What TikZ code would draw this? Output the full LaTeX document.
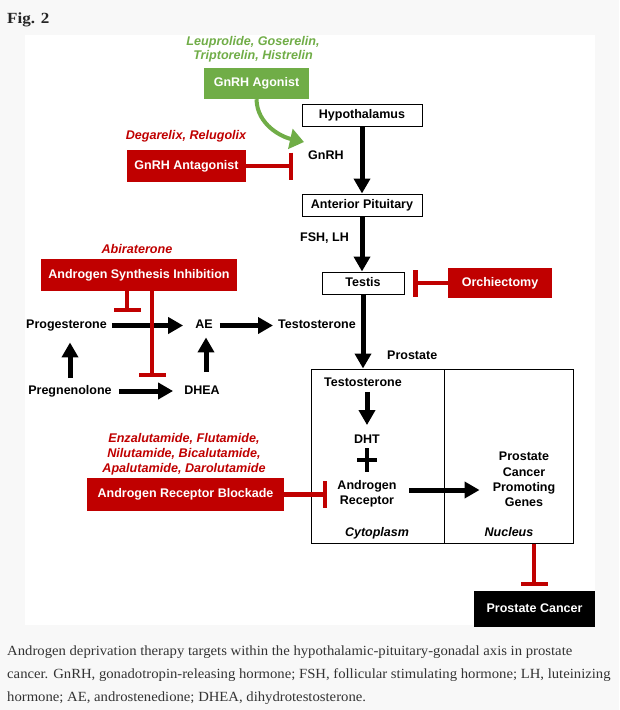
\documentclass[tikz,border=0pt]{standalone}
\usepackage{fontspec}
\setmainfont{Liberation Serif}
\newfontfamily\arial{Liberation Sans}
\newfontfamily\capfont[FakeStretch=1.05]{Liberation Serif}
\newfontfamily\figfont[FakeStretch=1.1]{Liberation Serif}
\usetikzlibrary{arrows.meta}
\definecolor{adtred}{HTML}{C00000}
\definecolor{adtgreen}{HTML}{70AD47}
\definecolor{pagegray}{HTML}{F8F8F8}
\definecolor{captext}{HTML}{333333}
\begin{document}
\begin{tikzpicture}[x=1pt,y=-1pt,
  txt/.style={font=\arial\bfseries\fontsize{12.5}{15}\selectfont, inner sep=0pt, text height=9pt, text depth=2.5pt},
  mtxt/.style={font=\arial\bfseries\fontsize{12.5}{15}\selectfont, inner sep=0pt, align=center},
  itxt/.style={font=\arial\bfseries\itshape\fontsize{12.5}{15}\selectfont, inner sep=0pt, text height=9pt, text depth=2.5pt},
  drug/.style={font=\arial\bfseries\itshape\fontsize{12.6}{14.5}\selectfont, inner sep=0pt, align=center},
  wbox/.style={txt, draw=black, line width=1pt, fill=white},
  rbox/.style={txt, fill=adtred, text=white},
  gbox/.style={txt, fill=adtgreen, text=white},
  kbox/.style={txt, fill=black, text=white},
  region/.style={draw=black, line width=1pt, inner sep=0pt},
  arr/.style={draw=black, line width=5pt, -{Triangle[width=16pt,length=15pt]}},
  inh/.style={draw=adtred, line width=4.5pt, -{Bar[width=27pt]}},
  greenarr/.style={draw=adtgreen, line width=4pt, -{Triangle[width=20pt,length=14pt]}},
  captxt/.style={font=\capfont\fontsize{14}{16}\selectfont, text=captext, inner sep=0pt, anchor=base west}
]
\useasboundingbox (0,0) rectangle (619,710);
\fill[pagegray] (0,0) rectangle (619,710);
\fill[white] (25,35) rectangle (595,625);

% title and caption
\node[anchor=base west, inner sep=0pt, font=\figfont\bfseries\fontsize{15.5}{18}\selectfont, text=black!85] (fig) at (7,23) {Fig. 2};
\node[captxt] (cap1) at (7,655) {Androgen deprivation therapy targets within the hypothalamic-pituitary-gonadal axis in prostate};
\node[captxt] (cap2) at (7,678) {cancer. GnRH, gonadotropin-releasing hormone; FSH, follicular stimulating hormone; LH, luteinizing};
\node[captxt] (cap3) at (7,701) {hormone; AE, androstenedione; DHEA, dihydrotestosterone.};

% prostate regions
\node[region, minimum width=133pt, minimum height=174pt] (cyto) at (377.5,456) {};
\node[region, minimum width=129pt, minimum height=174pt] (nucleus) at (508.5,456) {};

% axis boxes
\node[drug, text=adtgreen] (agdrugs) at (253,49) {Leuprolide, Goserelin,\\Triptorelin, Histrelin};
\node[gbox, minimum width=105pt, minimum height=31pt] (agonist) at (256.5,83.5) {GnRH Agonist};
\node[wbox, minimum width=120pt, minimum height=22pt] (hypo) at (362,115) {Hypothalamus};
\node[txt, anchor=west] (gnrh) at (308,156) {GnRH};
\node[drug, text=adtred] (antdrugs) at (186,136) {Degarelix, Relugolix};
\node[rbox, minimum width=119pt, minimum height=32pt] (antagonist) at (186.5,166) {GnRH Antagonist};
\node[wbox, minimum width=120pt, minimum height=22pt] (ap) at (362,205) {Anterior Pituitary};
\node[txt, anchor=west] (fsh) at (300,238) {FSH, LH};
\node[wbox, minimum width=82pt, minimum height=22pt] (testis) at (363,283) {Testis};
\node[rbox, minimum width=104pt, minimum height=30pt] (orch) at (500,283) {Orchiectomy};
\node[txt, anchor=west] (prostate) at (387,356) {Prostate};

% synthesis
\node[drug, text=adtred] (abi) at (137,249) {Abiraterone};
\node[rbox, minimum width=196pt, minimum height=32pt] (asi) at (139,275) {Androgen Synthesis Inhibition};
\node[txt] (prog) at (66.5,325.5) {Progesterone};
\node[txt] (ae) at (204,325.5) {AE};
\node[txt, anchor=west] (testo) at (278,325.5) {Testosterone};
\node[txt] (preg) at (70,391) {Pregnenolone};
\node[txt] (dhea) at (202,391) {DHEA};

% cell
\node[txt] (tin) at (363,383) {Testosterone};
\node[txt] (dht) at (367,440) {DHT};
\node[mtxt, font=\arial\bfseries\fontsize{12.5}{14.5}\selectfont] (ar) at (367,494) {Androgen\\Receptor};
\node[mtxt, font=\arial\bfseries\fontsize{12.5}{15.3}\selectfont] (pcpg) at (524,479.5) {Prostate\\Cancer\\Promoting\\Genes};
\node[itxt] (cytolbl) at (377,533) {Cytoplasm};
\node[itxt] (nuclbl) at (509,533) {Nucleus};
\node[drug, text=adtred, font=\arial\bfseries\itshape\fontsize{12.6}{15}\selectfont] (arbdrugs) at (184,454) {Enzalutamide, Flutamide,\\Nilutamide, Bicalutamide,\\Apalutamide, Darolutamide};
\node[rbox, minimum width=197pt, minimum height=33pt] (arb) at (185.5,494.5) {Androgen Receptor Blockade};
\node[kbox, minimum width=121pt, minimum height=36pt] (pc) at (534.5,609) {Prostate Cancer};

% inhibition end points
\coordinate (gnrhbar) at (293,166);
\coordinate (orchbar) at (413,283);
\coordinate (asibarA) at (127,312);
\coordinate (asibarB) at (152,377);
\coordinate (arbbar) at (327,494.5);
\coordinate (pcbar) at (534,586);
\coordinate (gnrhtip) at (304,142);

% black arrows
\draw[arr] (hypo.south) -- (ap.north);
\draw[arr] (ap.south) -- (ap.south |- testis.north);
\draw[arr] (testis.south) -- (testis.south |- cyto.north);
\draw[arr, shorten <=5pt, shorten >=12pt] (prog.east) -- (ae.west);
\draw[arr, shorten <=7pt, shorten >=5pt] (ae.east) -- (testo.west);
\draw[arr, shorten <=7pt, shorten >=11pt] (preg.east) -- (dhea.west);
\draw[arr, shorten <=7pt, shorten >=11pt] (preg.north) -- (preg.north |- prog.south);
\draw[arr, shorten <=13pt, shorten >=6pt] ([xshift=4pt]dhea.north) -- ([xshift=4pt]dhea.north |- ae.south);
\draw[arr, shorten <=3pt, shorten >=9pt] (dht.north |- tin.south) -- (dht.north);
\draw[arr, shorten <=12.5pt, shorten >=13pt] ([yshift=4pt]ar.east) -- ([yshift=4pt]ar.east -| pcpg.west);

% plus sign
\draw[line width=4pt] (357,460) -- (377,460);
\draw[line width=4pt] (367,448) -- (367,472);

% green agonist arrow
\draw[greenarr] (agonist.south) .. controls (257,125) and (282,137) .. (gnrhtip);

% inhibitions
\draw[inh] (antagonist.east) -- (gnrhbar);
\draw[inh] (orch.west) -- (orchbar);
\draw[inh] (asi.south -| asibarA) -- (asibarA);
\draw[inh] (asi.south -| asibarB) -- (asibarB);
\draw[inh] (arb.east) -- (arbbar);
\draw[inh] (nucleus.south -| pcbar) -- (pcbar);
\end{tikzpicture}
\end{document}
